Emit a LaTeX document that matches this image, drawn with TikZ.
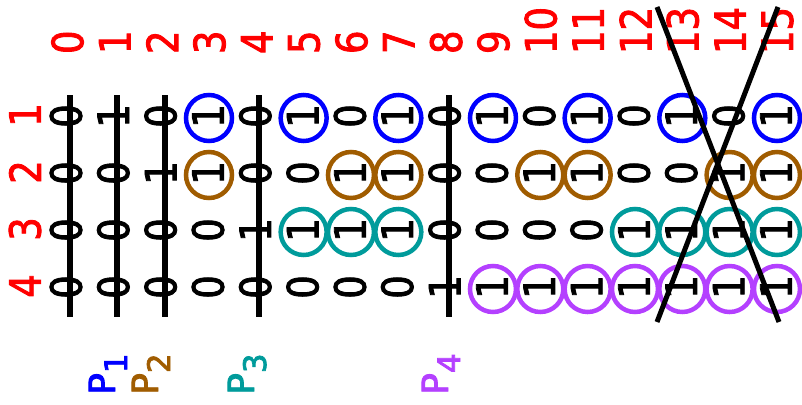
\documentclass[tikz,border=0pt]{standalone}
\usepackage{fontspec}
\newfontfamily\digfont[FakeStretch=0.86,FakeBold=2]{DejaVu Sans}
\newfontfamily\labfont[FakeBold=2.5]{DejaVu Sans}
\definecolor{pblue}{RGB}{0,0,255}
\definecolor{pbrown}{RGB}{160,92,0}
\definecolor{pteal}{RGB}{0,155,155}
\definecolor{ppurple}{RGB}{180,64,255}
\begin{document}
\begin{tikzpicture}[x=1pt,y=-1pt,
  digit/.style={font=\digfont\fontsize{43}{43}\selectfont, rotate=90, inner sep=0pt, outer sep=0pt},
  collabel/.style={digit, text=red, anchor=west},
  rowlabel/.style={digit, text=red},
  ring/.style={draw=#1, line width=4.5pt, circle, minimum size=46pt, inner sep=0pt},
  rule/.style={line width=6pt},
  cross/.style={line width=5pt},
  plabel/.style={font=\labfont\fontsize{36}{36}\selectfont, text=#1, rotate=90, anchor=base west, inner sep=0pt}]
\useasboundingbox (0,0) rectangle (802,404);

% column numbers
\foreach \c in {0,...,15} {
  \pgfmathsetmacro{\x}{66+47.33*\c+1.5}
  \node[collabel] (col-\c) at (\x,54) {\c};
}

% row numbers
\foreach \r in {1,...,4} {
  \pgfmathsetmacro{\y}{116+57*(\r-1)-1}
  \node[rowlabel] (row-\r) at (25,\y) {\r};
}

% bit table: row r holds bit r-1 of the column number; data bits with a 1 are ringed
\foreach \r/\col in {1/pblue,2/pbrown,3/pteal,4/ppurple} {
  \foreach \c in {0,...,15} {
    \pgfmathtruncatemacro{\b}{mod(floor(\c/(2^(\r-1))),2)}
    \pgfmathtruncatemacro{\p}{2^(\r-1)}
    \pgfmathsetmacro{\x}{66+47.33*\c}
    \pgfmathsetmacro{\y}{116+57*(\r-1)}
    \ifnum\b=1 \ifnum\c=\p\else
      \node[ring=\col] (ring-\r-\c) at (\x+1,\y+2) {};
    \fi\fi
    \node[digit] (d-\r-\c) at (\x,\y) {\b};
  }
}

% vertical rules through the parity columns
\foreach \c in {0,1,2,4,8} {
  \pgfmathsetmacro{\x}{66+47.33*\c+4}
  \coordinate (rt-\c) at (\x,95);
  \coordinate (rb-\c) at (\x,317);
  \draw[rule] (rt-\c) -- (rb-\c);
}

% cross over the last columns
\coordinate (xa) at (657,7);
\coordinate (xb) at (779,322);
\coordinate (xc) at (778,7);
\coordinate (xd) at (657,322);
\draw[cross] (xa) -- (xb);
\draw[cross] (xc) -- (xd);

% parity labels
\node[plabel=pblue] (p1) at (115,395) {P\raisebox{-12pt}{\fontsize{31}{31}\selectfont 1}};
\node[plabel=pbrown] (p2) at (158,395) {P\raisebox{-12pt}{\fontsize{31}{31}\selectfont 2}};
\node[plabel=pteal] (p3) at (254,395) {P\raisebox{-12pt}{\fontsize{31}{31}\selectfont 3}};
\node[plabel=ppurple] (p4) at (448,395) {P\raisebox{-12pt}{\fontsize{31}{31}\selectfont 4}};
\end{tikzpicture}
\end{document}
